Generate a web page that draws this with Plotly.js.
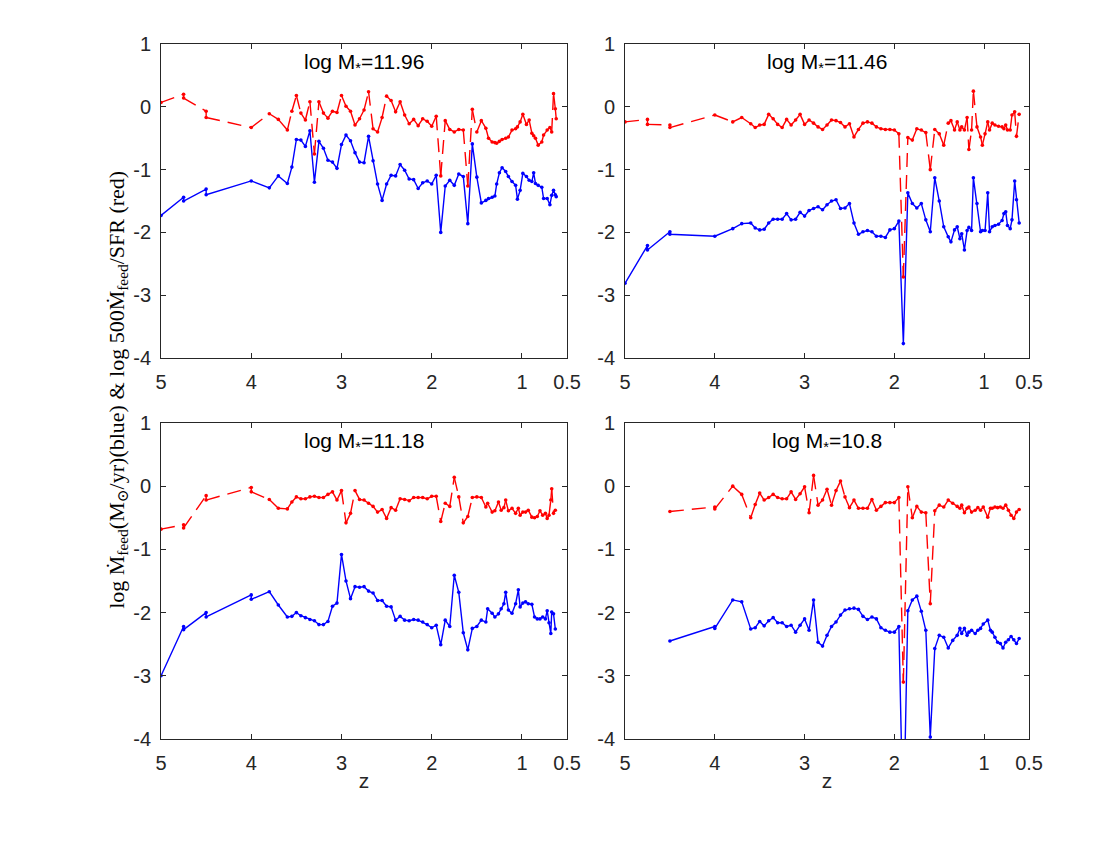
<!DOCTYPE html>
<html><head><meta charset="utf-8">
<script src="https://cdn.plot.ly/plotly-3.0.1.min.js"></script>
<style>html,body{margin:0;padding:0;background:#fff}#chart{width:1100px;height:850px}</style>
</head><body><div id="chart"></div>
<script>
// ---- tick labels ----
const xTickVals = [5, 4, 3, 2, 1, 0.5];
const xTickText = ['5', '4', '3', '2', '1', '0.5'];
const yTickVals = [-4, -3, -2, -1, 0, 1];
const yTickText = ['-4', '-3', '-2', '-1', '0', '1'];
const panelMass = ['11.96', '11.46', '11.18', '10.8'];

// ---- panel 1: log M*=11.96 ----
const z1 = [5,4.75,4.75,4.5,4.5,4.0,3.8,3.7,3.6,3.55,
  3.5,3.45,3.4,3.35,3.3,3.25,3.2,3.15,3.1,3.05,3.0,2.95,2.9,2.85,2.8,2.75,2.7,2.65,2.6,
  2.55,2.5,2.45,2.4,2.35,2.3,2.25,2.2,2.15,2.1,2.05,2.0,1.95,1.9,1.85,1.8,1.75,1.7,1.65,1.6,1.55,1.5,1.45,1.4,
  1.37,1.33,1.3,1.28,1.25,1.22,1.18,1.15,1.11,1.07,1.05,1.02,0.99,0.95,0.92,0.89,0.87,0.85,0.82,0.78,0.76,0.72,0.69,0.67,0.65,0.63,0.62];
const blue1 = [-1.73,-1.44,-1.50,-1.31,-1.40,-1.18,-1.29,-1.10,-1.22,-0.96,
  -0.52,-0.53,-0.63,-0.38,-1.20,-0.55,-0.66,-0.85,-0.88,-0.98,-0.60,-0.45,-0.54,-0.73,-0.88,-0.89,-0.47,-0.86,-1.23,
  -1.49,-1.23,-1.09,-1.10,-0.92,-1.01,-1.15,-1.16,-1.30,-1.21,-1.18,-1.23,-1.09,-2.00,-1.26,-1.17,-1.25,-1.07,-1.11,-1.86,-0.59,-1.12,-1.53,-1.49,
  -1.46,-1.44,-1.42,-1.23,-1.05,-0.97,-1.03,-1.11,-1.19,-1.25,-1.47,-1.33,-1.06,-1.11,-1.17,-1.19,-1.05,-1.22,-1.25,-1.28,-1.46,-1.46,-1.56,-1.41,-1.33,-1.40,-1.43];
const red1 = [0.07,0.20,0.14,-0.07,-0.17,-0.33,-0.11,-0.20,-0.37,-0.07,
  0.18,-0.10,-0.21,0.08,-0.75,0.08,-0.10,-0.18,-0.07,-0.09,0.18,0.01,-0.07,-0.29,-0.19,-0.05,0.24,-0.35,-0.40,
  -0.17,0.17,0.10,-0.08,0.08,-0.13,-0.27,-0.20,-0.30,-0.19,-0.23,-0.31,-0.15,-1.10,-0.22,-0.36,-0.40,-0.36,-0.37,-1.26,-0.04,-0.40,-0.22,-0.34,
  -0.50,-0.56,-0.57,-0.58,-0.55,-0.52,-0.50,-0.48,-0.37,-0.35,-0.32,-0.24,-0.12,-0.28,-0.21,-0.42,-0.46,-0.50,-0.61,-0.56,-0.45,-0.37,-0.33,-0.40,0.21,-0.03,-0.19];

// ---- panel 2: log M*=11.46 ----
const z2 = [5,4.75,4.75,4.5,4.5,4.0,3.8,3.7,3.6,3.55,
  3.5,3.45,3.4,3.35,3.3,3.25,3.2,3.15,3.1,3.05,3.0,2.95,2.9,2.85,2.8,2.75,2.7,2.65,2.6,
  2.55,2.5,2.45,2.4,2.35,2.3,2.25,2.2,2.15,2.1,2.05,2.0,1.95,1.9,1.85,1.8,1.75,1.7,1.65,1.6,1.55,1.5,1.45,1.4,
  1.37,1.33,1.3,1.27,1.25,1.22,1.19,1.17,1.14,1.12,1.08,1.04,1.02,0.99,0.96,0.94,0.91,0.88,0.84,0.8,0.78,0.76,0.74,0.71,0.69,0.66,0.64,0.61];
const blue2 = [-2.81,-2.21,-2.28,-1.99,-2.03,-2.06,-1.94,-1.86,-1.85,-1.93,
  -1.96,-1.95,-1.85,-1.79,-1.79,-1.79,-1.70,-1.80,-1.79,-1.68,-1.74,-1.65,-1.62,-1.59,-1.64,-1.56,-1.50,-1.48,-1.62,
  -1.61,-1.54,-1.85,-2.03,-1.99,-1.97,-1.99,-2.06,-2.06,-2.08,-1.96,-1.94,-1.82,-3.77,-1.37,-1.54,-1.61,-1.54,-1.80,-1.99,-1.13,-1.50,-1.91,-2.07,
  -2.15,-1.96,-1.91,-2.10,-2.02,-2.28,-1.97,-1.92,-1.97,-1.13,-1.54,-1.99,-1.97,-1.97,-1.37,-1.99,-1.91,-1.89,-1.87,-1.81,-1.70,-1.67,-1.89,-1.94,-1.80,-1.18,-1.48,-1.85];
const red2 = [-0.24,-0.20,-0.28,-0.29,-0.33,-0.13,-0.24,-0.17,-0.27,-0.33,
  -0.29,-0.28,-0.12,-0.19,-0.28,-0.33,-0.20,-0.29,-0.21,-0.12,-0.28,-0.21,-0.26,-0.32,-0.36,-0.29,-0.21,-0.22,-0.25,
  -0.32,-0.27,-0.48,-0.36,-0.26,-0.24,-0.26,-0.32,-0.35,-0.36,-0.36,-0.37,-0.43,-2.71,-0.49,-0.53,-0.35,-0.37,-0.41,-1.00,-0.36,-0.43,-0.61,-0.26,
  -0.22,-0.37,-0.24,-0.37,-0.32,-0.37,-0.17,-0.68,-0.37,0.25,-0.32,-0.48,-0.61,-0.43,-0.24,-0.37,-0.26,-0.29,-0.31,-0.32,-0.35,-0.29,-0.37,-0.37,-0.13,-0.08,-0.47,-0.12];

// ---- panel 3: log M*=11.18 ----
const z3 = [5,4.75,4.75,4.5,4.5,4.0,4.0,3.8,3.7,3.6,3.55,
  3.5,3.45,3.4,3.35,3.3,3.25,3.2,3.15,3.1,3.05,3.0,2.95,2.9,2.85,2.8,2.75,2.7,2.65,2.6,
  2.55,2.5,2.45,2.4,2.35,2.3,2.25,2.2,2.15,2.1,2.05,2.0,1.95,1.9,1.85,1.8,1.75,1.7,1.65,1.6,1.55,1.5,1.45,1.4,
  1.38,1.33,1.3,1.26,1.23,1.2,1.18,1.15,1.11,1.07,1.04,1.02,0.99,0.96,0.93,0.89,0.86,0.83,0.8,0.77,0.74,0.72,0.7,0.68,0.67,0.65,0.63];
const blue3 = [-3.00,-2.22,-2.27,-2.00,-2.07,-1.72,-1.79,-1.67,-1.88,-2.07,-2.06,
  -2.00,-2.05,-2.08,-2.11,-2.13,-2.19,-2.19,-2.14,-1.90,-1.85,-1.08,-1.50,-1.78,-1.59,-1.60,-1.59,-1.66,-1.69,-1.81,
  -1.81,-1.90,-1.91,-2.12,-2.06,-2.12,-2.13,-2.11,-2.12,-2.15,-2.19,-2.24,-2.20,-2.51,-2.12,-2.22,-1.41,-1.68,-2.32,-2.59,-2.25,-2.22,-2.12,-2.15,
  -1.94,-2.01,-2.07,-2.02,-1.94,-1.86,-1.68,-1.96,-2.01,-1.86,-1.64,-1.91,-1.85,-1.83,-1.86,-1.87,-2.07,-2.10,-2.10,-2.07,-2.10,-1.97,-2.16,-2.33,-1.99,-2.02,-2.26];
const red3 = [-0.68,-0.61,-0.66,-0.15,-0.22,-0.02,-0.09,-0.21,-0.35,-0.36,-0.25,
  -0.17,-0.20,-0.20,-0.17,-0.16,-0.18,-0.18,-0.13,-0.09,-0.22,-0.07,-0.58,-0.43,-0.07,-0.21,-0.22,-0.27,-0.32,-0.41,
  -0.37,-0.51,-0.34,-0.38,-0.20,-0.21,-0.23,-0.18,-0.18,-0.18,-0.20,-0.16,-0.16,-0.56,-0.27,-0.32,0.14,-0.17,-0.58,-0.48,-0.18,-0.17,-0.18,-0.33,
  -0.27,-0.41,-0.39,-0.25,-0.38,-0.34,-0.22,-0.39,-0.35,-0.43,-0.35,-0.46,-0.41,-0.41,-0.38,-0.49,-0.50,-0.48,-0.39,-0.46,-0.43,-0.51,-0.46,-0.22,-0.04,-0.43,-0.38];

// ---- panel 4: log M*=10.8 ----
const z4 = [4.5,4.0,4.0,3.8,3.7,3.6,3.55,
  3.5,3.45,3.4,3.35,3.3,3.25,3.2,3.15,3.1,3.05,3.0,2.95,2.9,2.85,2.8,2.75,2.7,2.65,2.6,
  2.55,2.5,2.45,2.4,2.35,2.3,2.25,2.2,2.15,2.1,2.05,2.0,1.95,1.9,1.85,1.8,1.75,1.7,1.65,1.6,1.55,1.5,1.45,1.4,
  1.35,1.3,1.27,1.25,1.22,1.19,1.17,1.14,1.1,1.07,1.04,1.01,0.96,0.93,0.91,0.88,0.85,0.82,0.79,0.76,0.73,0.7,0.67,0.64,0.61];
const blue4 = [-2.45,-2.22,-2.25,-1.80,-1.83,-2.26,-2.24,
  -2.14,-2.21,-2.13,-2.08,-2.16,-2.16,-2.22,-2.20,-2.31,-2.20,-2.10,-2.28,-1.80,-2.47,-2.53,-2.36,-2.22,-2.15,-2.04,
  -1.96,-1.94,-1.93,-1.95,-2.06,-2.11,-2.07,-2.10,-2.24,-2.28,-2.31,-2.31,-2.22,-5.50,-1.97,-1.80,-1.74,-1.98,-2.28,-3.97,-2.57,-2.36,-2.39,-2.56,
  -2.44,-2.36,-2.25,-2.33,-2.25,-2.36,-2.31,-2.28,-2.33,-2.28,-2.25,-2.18,-2.12,-2.28,-2.31,-2.39,-2.47,-2.49,-2.56,-2.47,-2.43,-2.38,-2.43,-2.49,-2.41];
const red4 = [-0.40,-0.33,-0.36,0.00,-0.13,-0.50,-0.29,
  -0.11,-0.22,-0.18,-0.13,-0.18,-0.20,-0.20,-0.09,-0.21,-0.12,-0.01,-0.42,0.17,-0.30,-0.22,-0.05,-0.30,-0.07,0.08,
  -0.17,-0.34,-0.22,-0.35,-0.35,-0.35,-0.21,-0.38,-0.32,-0.26,-0.26,-0.26,-0.18,-3.10,-0.01,-0.50,-0.32,-0.41,-0.42,-1.86,-0.39,-0.30,-0.33,-0.22,
  -0.27,-0.32,-0.35,-0.30,-0.42,-0.35,-0.33,-0.41,-0.38,-0.34,-0.38,-0.33,-0.49,-0.35,-0.35,-0.33,-0.34,-0.33,-0.35,-0.30,-0.38,-0.46,-0.51,-0.41,-0.37];

const panels = [
  {z: z1, blue: blue1, red: red1},
  {z: z2, blue: blue2, red: red2},
  {z: z3, blue: blue3, red: red3},
  {z: z4, blue: blue4, red: red4}
];

const BLUE = '#0000ff', RED = '#ff0000';
const traces = [];
panels.forEach((p, k) => {
  const xa = k === 0 ? 'x' : 'x' + (k + 1);
  const ya = k === 0 ? 'y' : 'y' + (k + 1);
  traces.push({x: p.z, y: p.blue, xaxis: xa, yaxis: ya, type: 'scatter', mode: 'lines+markers',
    line: {color: BLUE, width: 1.4}, marker: {color: BLUE, size: 3.6}, showlegend: false, hoverinfo: 'skip'});
  // dashed red: dash pattern restarts on each segment, as in the original renderer
  for (let i = 0; i < p.z.length - 1; i++) {
    traces.push({x: [p.z[i], p.z[i + 1]], y: [p.red[i], p.red[i + 1]], xaxis: xa, yaxis: ya,
      type: 'scatter', mode: 'lines', line: {color: RED, width: 1.4, dash: '14px,8px'},
      showlegend: false, hoverinfo: 'skip'});
  }
  traces.push({x: p.z, y: p.red, xaxis: xa, yaxis: ya, type: 'scatter', mode: 'markers',
    marker: {color: RED, size: 3.6}, showlegend: false, hoverinfo: 'skip'});
});

const AX = '#262626';
const tickFont = {family: 'Liberation Sans, Arial, sans-serif', size: 20, color: AX};
function xAxis(domain, anchor, withTitle) {
  const a = {domain: domain, anchor: anchor, range: [5, 0.5], tickmode: 'array', tickvals: xTickVals, ticktext: xTickText,
    ticks: 'inside', ticklen: 5, tickwidth: 1, tickcolor: AX, showline: true, linecolor: AX, linewidth: 1,
    mirror: 'ticks', showgrid: false, zeroline: false, tickfont: tickFont, ticklabelstandoff: 6, fixedrange: true};
  if (withTitle) a.title = {text: 'z', font: {family: 'Liberation Sans, Arial, sans-serif', size: 21, color: AX}, standoff: 0};
  return a;
}
function yAxis(domain, anchor) {
  return {domain: domain, anchor: anchor, range: [-4, 1], tickmode: 'array', tickvals: yTickVals, ticktext: yTickText,
    ticks: 'inside', ticklen: 5, tickwidth: 1, tickcolor: AX, showline: true, linecolor: AX, linewidth: 1,
    mirror: 'ticks', showgrid: false, zeroline: false, tickfont: tickFont, ticklabelstandoff: 5, fixedrange: true};
}
const XL = [0.1464, 0.5155], XR = [0.5682, 0.9355];
const YT = [0.5788, 0.9482], YB = [0.1306, 0.5024];

const annotations = panelMass.map((m, k) => ({
  xref: (k === 0 ? 'x' : 'x' + (k + 1)) + ' domain', yref: (k === 0 ? 'y' : 'y' + (k + 1)) + ' domain',
  x: 0.5, y: 0.94, xanchor: 'center', yanchor: 'middle', showarrow: false,
  text: 'log M<sub>*</sub>=' + m, font: {family: 'Liberation Sans, Arial, sans-serif', size: 21, color: '#000'}
}));
annotations.push({
  xref: 'paper', yref: 'paper', x: 0.107, y: 0.541, xanchor: 'center', yanchor: 'middle', showarrow: false,
  textangle: -90,
  text: 'log Ṁ<sub>feed</sub>(M<sub>⊙</sub>/yr)(blue) &amp; log 500Ṁ<sub>feed</sub>/SFR (red)',
  font: {family: 'Liberation Serif, DejaVu Serif, serif', size: 22, color: '#000'}
});

const layout = {
  width: 1100, height: 850, margin: {l: 0, r: 0, t: 0, b: 0},
  paper_bgcolor: '#fff', plot_bgcolor: '#fff', showlegend: false,
  xaxis: xAxis(XL, 'y', false), yaxis: yAxis(YT, 'x'),
  xaxis2: xAxis(XR, 'y2', false), yaxis2: yAxis(YT, 'x2'),
  xaxis3: xAxis(XL, 'y3', true), yaxis3: yAxis(YB, 'x3'),
  xaxis4: xAxis(XR, 'y4', true), yaxis4: yAxis(YB, 'x4'),
  annotations: annotations
};
Plotly.newPlot('chart', traces, layout, {staticPlot: true, displayModeBar: false});
</script>
</body></html>
